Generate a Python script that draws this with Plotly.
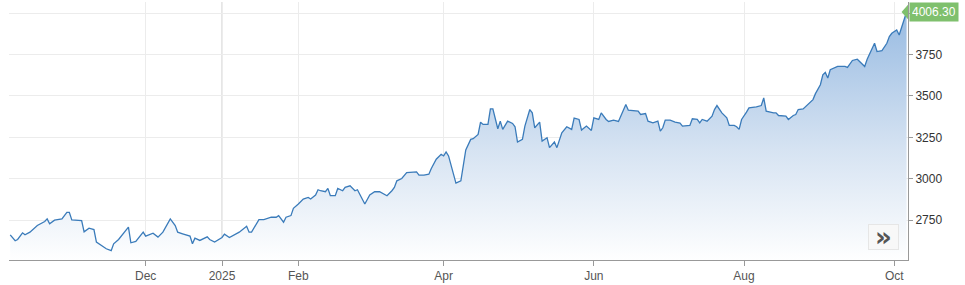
import plotly.graph_objects as go

dates = [
    "2024-10-07", "2024-10-09", "2024-10-10", "2024-10-12", "2024-10-13", "2024-10-15", "2024-10-18",
    "2024-10-21", "2024-10-22", "2024-10-23", "2024-10-25", "2024-10-28", "2024-10-29", "2024-10-30",
    "2024-10-31", "2024-11-01", "2024-11-05", "2024-11-06", "2024-11-08", "2024-11-10", "2024-11-11",
    "2024-11-13", "2024-11-15", "2024-11-17", "2024-11-18", "2024-11-20", "2024-11-22", "2024-11-24",
    "2024-11-25", "2024-11-27", "2024-11-30", "2024-12-01", "2024-12-04", "2024-12-06", "2024-12-08",
    "2024-12-10", "2024-12-11", "2024-12-13", "2024-12-14", "2024-12-16", "2024-12-19", "2024-12-20",
    "2024-12-21", "2024-12-23", "2024-12-26", "2024-12-27", "2024-12-29", "2025-01-01", "2025-01-02",
    "2025-01-04", "2025-01-06", "2025-01-08", "2025-01-11", "2025-01-12", "2025-01-13", "2025-01-16",
    "2025-01-18", "2025-01-21", "2025-01-23", "2025-01-24", "2025-01-26", "2025-01-27", "2025-01-29",
    "2025-01-30", "2025-02-01", "2025-02-03", "2025-02-05", "2025-02-06", "2025-02-08", "2025-02-09",
    "2025-02-10", "2025-02-12", "2025-02-13", "2025-02-14", "2025-02-16", "2025-02-17", "2025-02-19",
    "2025-02-20", "2025-02-22", "2025-02-24", "2025-02-25", "2025-02-26", "2025-02-27", "2025-02-28",
    "2025-03-02", "2025-03-04", "2025-03-06", "2025-03-09", "2025-03-11", "2025-03-12", "2025-03-13",
    "2025-03-15", "2025-03-17", "2025-03-21", "2025-03-22", "2025-03-24", "2025-03-26", "2025-03-27",
    "2025-03-29", "2025-03-31", "2025-04-01", "2025-04-02", "2025-04-03", "2025-04-05", "2025-04-06",
    "2025-04-08", "2025-04-09", "2025-04-10", "2025-04-12", "2025-04-13", "2025-04-15", "2025-04-16",
    "2025-04-17", "2025-04-19", "2025-04-20", "2025-04-21", "2025-04-23", "2025-04-24", "2025-04-25",
    "2025-04-27", "2025-04-29", "2025-04-30", "2025-05-01", "2025-05-03", "2025-05-04", "2025-05-06",
    "2025-05-07", "2025-05-08", "2025-05-10", "2025-05-11", "2025-05-13", "2025-05-14", "2025-05-16",
    "2025-05-17", "2025-05-19", "2025-05-21", "2025-05-23", "2025-05-24", "2025-05-26", "2025-05-27",
    "2025-05-29", "2025-05-31", "2025-06-01", "2025-06-03", "2025-06-04", "2025-06-06", "2025-06-07",
    "2025-06-09", "2025-06-11", "2025-06-13", "2025-06-14", "2025-06-15", "2025-06-19", "2025-06-20",
    "2025-06-22", "2025-06-23", "2025-06-25", "2025-06-27", "2025-06-28", "2025-06-29", "2025-06-30",
    "2025-07-02", "2025-07-04", "2025-07-06", "2025-07-07", "2025-07-10", "2025-07-11", "2025-07-13",
    "2025-07-14", "2025-07-15", "2025-07-17", "2025-07-19", "2025-07-20", "2025-07-21", "2025-07-23",
    "2025-07-25", "2025-07-26", "2025-07-28", "2025-07-29", "2025-07-30", "2025-07-31", "2025-08-02",
    "2025-08-03", "2025-08-06", "2025-08-08", "2025-08-09", "2025-08-10", "2025-08-13", "2025-08-14",
    "2025-08-15", "2025-08-18", "2025-08-19", "2025-08-21", "2025-08-22", "2025-08-23", "2025-08-25",
    "2025-08-27", "2025-08-29", "2025-08-30", "2025-09-01", "2025-09-02", "2025-09-03", "2025-09-04",
    "2025-09-05", "2025-09-08", "2025-09-11", "2025-09-12", "2025-09-14", "2025-09-16", "2025-09-17",
    "2025-09-19", "2025-09-20", "2025-09-22", "2025-09-23", "2025-09-24", "2025-09-26", "2025-09-28",
    "2025-09-29", "2025-09-30", "2025-10-02", "2025-10-03", "2025-10-04", "2025-10-06",
]

prices = [
    2662, 2626, 2634, 2674, 2662, 2678, 2718,
    2742, 2758, 2728, 2750, 2758, 2778, 2798,
    2798, 2752, 2748, 2680, 2702, 2694, 2618,
    2598, 2578, 2566, 2608, 2634, 2668, 2708,
    2614, 2622, 2678, 2654, 2672, 2648, 2678,
    2728, 2758, 2718, 2678, 2668, 2654, 2608,
    2642, 2628, 2650, 2634, 2618, 2646, 2666,
    2646, 2662, 2678, 2714, 2678, 2678, 2754,
    2754, 2768, 2768, 2778, 2738, 2768, 2778,
    2822, 2848, 2878, 2888, 2878, 2902, 2934,
    2928, 2922, 2942, 2898, 2898, 2942, 2928,
    2948, 2958, 2928, 2934, 2908, 2878, 2848,
    2902, 2922, 2922, 2898, 2928, 2948, 2988,
    3002, 3038, 3042, 3022, 3022, 3028, 3062,
    3118, 3148, 3138, 3162, 3138, 3038, 2974,
    2988, 3078, 3174, 3238, 3242, 3268, 3342,
    3328, 3328, 3422, 3422, 3302, 3348, 3298,
    3348, 3334, 3314, 3222, 3238, 3318, 3418,
    3398, 3308, 3342, 3228, 3248, 3188, 3222,
    3188, 3278, 3314, 3298, 3366, 3358, 3294,
    3318, 3292, 3368, 3358, 3398, 3358, 3346,
    3354, 3346, 3408, 3448, 3414, 3408, 3388,
    3394, 3348, 3338, 3348, 3288, 3308, 3354,
    3354, 3342, 3336, 3318, 3322, 3362, 3358,
    3338, 3358, 3348, 3378, 3418, 3442, 3398,
    3368, 3322, 3322, 3314, 3298, 3358, 3402,
    3428, 3434, 3442, 3488, 3408, 3398, 3398,
    3382, 3378, 3358, 3382, 3388, 3418, 3422,
    3448, 3478, 3514, 3568, 3628, 3642, 3608,
    3658, 3678, 3678, 3672, 3714, 3722, 3708,
    3678, 3722, 3788, 3818, 3768, 3774, 3818,
    3858, 3878, 3898, 3868, 3918, 4006.30,
]

x_tick_dates = ["2024-12-01", "2025-01-01", "2025-02-01", "2025-04-01", "2025-06-01", "2025-08-01", "2025-10-01"]
x_tick_labels = ["Dec", "2025", "Feb", "Apr", "Jun", "Aug", "Oct"]
year_marks = ["2025-01-01"]
y_tick_vals = [2750, 3000, 3250, 3500, 3750, 4000]
y_tick_labels = ["2750", "3000", "3250", "3500", "3750", ""]
x_range = ["2024-10-06 12:00", "2025-10-06 14:00"]
y_range = [2510, 4067]
last_label = "4006.30"

LINE = "#3a7bba"
GREEN = "#7fc06d"
FONT = "Liberation Sans, Arial, sans-serif"

fig = go.Figure()
fig.add_trace(go.Scatter(
    x=dates, y=prices, mode="lines",
    line=dict(color=LINE, width=1.3),
    fill="tozeroy",
    fillgradient=dict(type="vertical", start=y_range[0], stop=prices[-1],
                      colorscale=[[0, "rgba(255,255,255,1)"], [0.45, "rgba(214,227,242,1)"], [1, "rgba(152,187,226,1)"]]),
    hoverinfo="skip", showlegend=False,
))

for d in year_marks:
    fig.add_shape(type="line", x0=d, x1=d, xref="x", yref="paper", y0=0, y1=1,
                  line=dict(color="#cccccc", width=1), layer="below")

# green callout for the last value
fig.add_shape(type="path", xref="x", yref="y", xsizemode="pixel", ysizemode="pixel",
              xanchor=dates[-1], yanchor=prices[-1],
              path="M -5 0 L 3 9 L 3 -9 Z", fillcolor=GREEN, line=dict(width=0))
fig.add_annotation(x=dates[-1], y=prices[-1], text=last_label, showarrow=False,
                   xanchor="left", yanchor="middle", xshift=2,
                   font=dict(family=FONT, size=12, color="white"),
                   bgcolor=GREEN, borderpad=2, height=14)

# the scroll button
fig.add_annotation(xref="paper", yref="paper", x=0.9725, y=0.09, text="<b>»</b>",
                   showarrow=False, xanchor="center", yanchor="middle",
                   font=dict(family="DejaVu Sans", size=26, color="#555555"),
                   bgcolor="#f8f8f8", bordercolor="#e6e6e6", borderwidth=1,
                   width=27, height=22)

fig.update_layout(
    width=965, height=285,
    margin=dict(l=9, r=57, t=2, b=23),
    paper_bgcolor="white", plot_bgcolor="white",
    font=dict(family=FONT, size=12, color="#333333"),
    xaxis=dict(
        type="date", range=x_range,
        tickvals=x_tick_dates, ticktext=x_tick_labels,
        showgrid=True, gridcolor="#ececec", gridwidth=1,
        showline=True, linecolor="#999999", linewidth=1,
        ticks="outside", ticklen=5, tickcolor="#999999",
        tickfont=dict(family=FONT, size=12, color="#555555"),
        zeroline=False, fixedrange=True,
    ),
    yaxis=dict(
        side="right", range=y_range,
        tickvals=y_tick_vals, ticktext=y_tick_labels,
        showgrid=True, gridcolor="#ececec", gridwidth=1,
        showline=True, linecolor="#999999", linewidth=1,
        ticks="outside", ticklen=4, tickcolor="#999999",
        tickfont=dict(family=FONT, size=12, color="#333333"),
        zeroline=False, fixedrange=True,
    ),
    showlegend=False,
)

fig.write_html("out.html")
